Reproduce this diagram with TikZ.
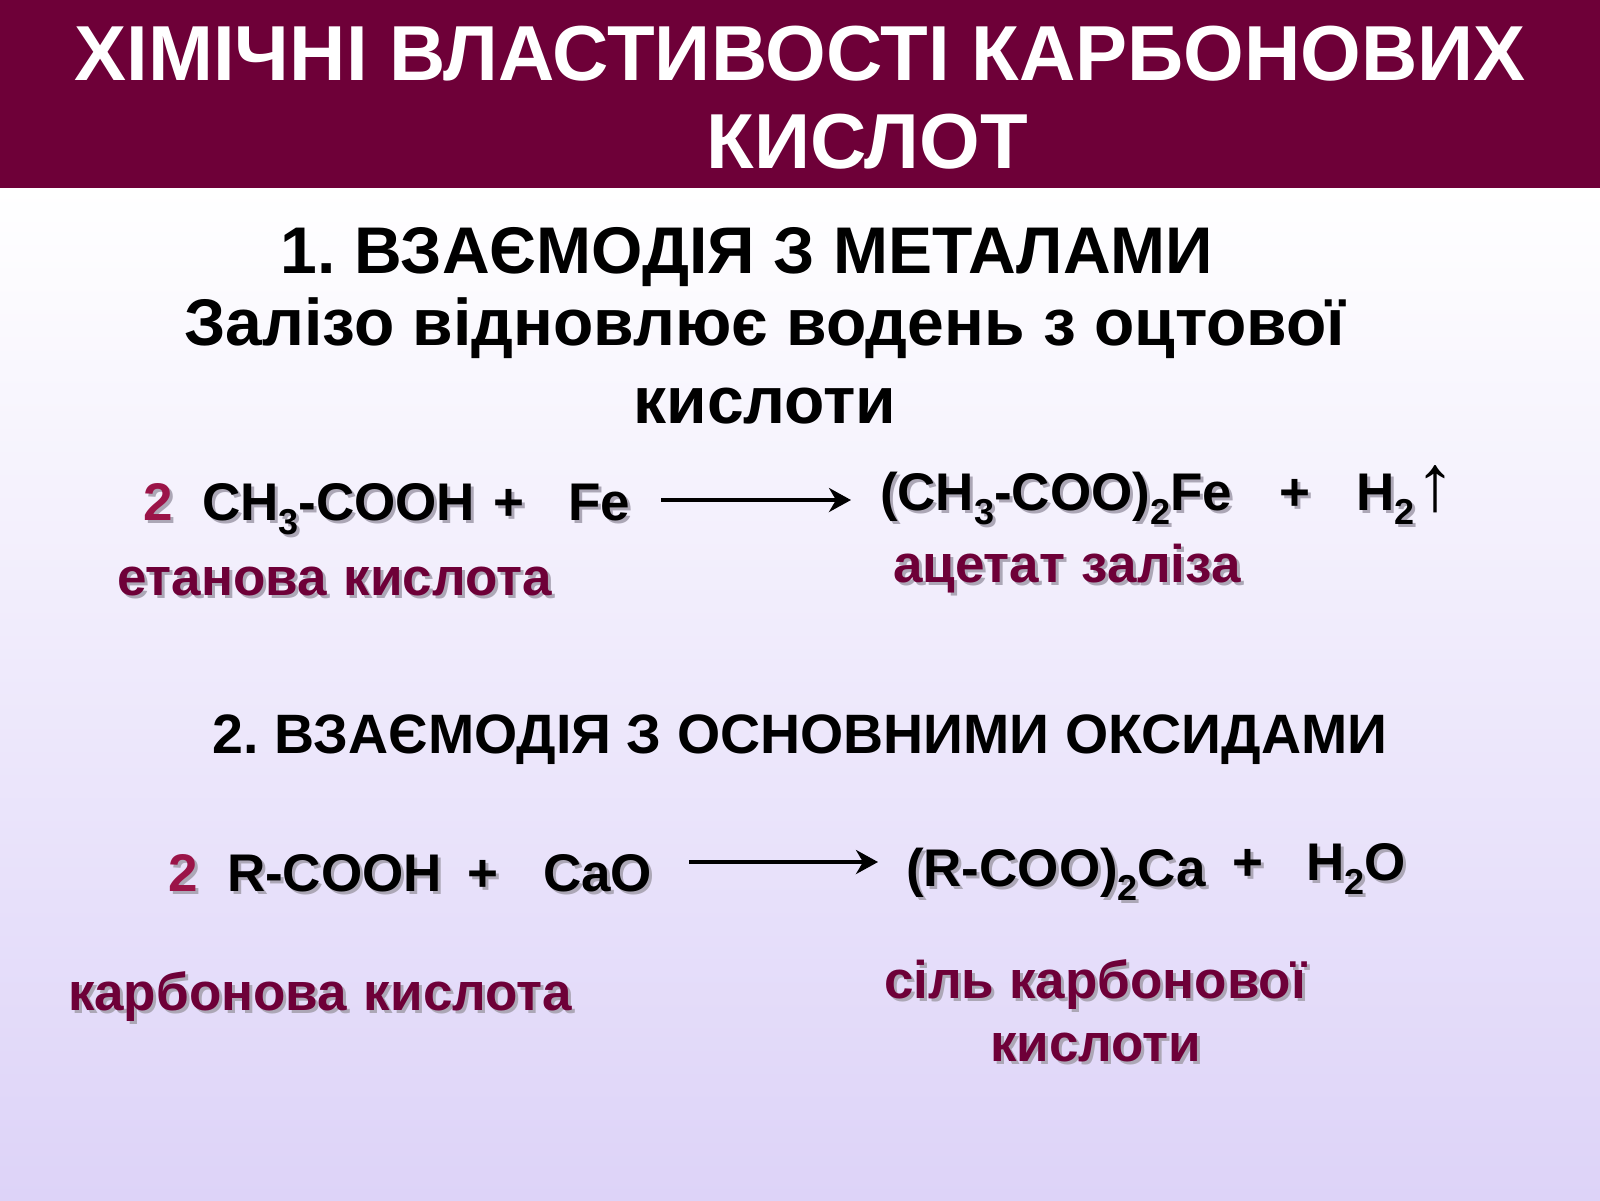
\documentclass[tikz,border=0pt]{standalone}
\usepackage{fontspec}
\setmainfont{Liberation Sans}
\usetikzlibrary{arrows.meta}
\frenchspacing
\definecolor{banner}{RGB}{110,0,56}
\definecolor{lab}{RGB}{110,0,56}
\definecolor{numc}{RGB}{155,20,72}
\definecolor{shadowc}{RGB}{172,167,182}
\definecolor{lav}{RGB}{221,211,248}
\newcommand\NC{numc}
\newcommand\sbs[1]{\raisebox{-0.28em}{\fontsize{36}{36}\selectfont #1}}
\newcommand\shd[1]{{\def\NC{shadowc}\rlap{\kern3pt\raisebox{-3pt}{\color{shadowc}#1}}}#1}
\tikzset{
  txt/.style={inner sep=0pt, outer sep=0pt, font=\bfseries},
  ttl/.style={txt, anchor=base, text=white, font=\bfseries\fontsize{78}{80}\selectfont},
  hd/.style={txt, anchor=base, text=black, font=\bfseries\fontsize{#1}{#1}\selectfont},
  frm/.style={txt, anchor=base west, text=black, font=\bfseries\fontsize{53}{60}\selectfont},
  lbl/.style={txt, anchor=base west, text=lab, font=\bfseries\fontsize{53}{60}\selectfont},
  rarrow/.style={line width=3.5pt, -{Stealth[length=22pt,width=24pt,inset=7pt]}}
}
\begin{document}
\begin{tikzpicture}[x=1pt,y=-1pt]
\useasboundingbox (0,0) rectangle (1600,1200);
% background
\shade[top color=white, bottom color=lav] (0,187) rectangle (1600,1200);
\fill[banner] (0,0) rectangle (1600,188);
% title
\node[ttl] (t1) at (800,80) {ХІМІЧНІ ВЛАСТИВОСТІ КАРБОНОВИХ};
\node[ttl] (t2) at (867,168) {КИСЛОТ};
% section 1
\node[hd=66] (h1) at (747,273) {1. ВЗАЄМОДІЯ З МЕТАЛАМИ};
\node[hd=66] (h1b) at (765,345) {Залізо відновлює водень з оцтової};
\node[hd=66] (h1c) at (765,423) {кислоти};
% reaction 1
\node[frm] (n1) at (143,520) {\shd{\textcolor{\NC}{2}}};
\node[frm] (a1) at (202,520) {\shd{CH\sbs{3}-COOH}};
\node[frm] (p1) at (493,520) {\shd{+}};
\node[frm] (fe) at (568,520) {\shd{Fe}};
\coordinate (s1) at (661,500);
\coordinate (e1) at (851,500);
\draw[rarrow] (s1) -- (e1);
\node[frm] (ac) at (880,510) {\shd{(CH\sbs{3}-COO)\sbs{2}Fe}};
\node[frm] (p2) at (1279,510) {\shd{+}};
\node[frm] (h2) at (1356,510) {\shd{H\sbs{2}}\kern1pt{\fontsize{80}{80}\selectfont\mdseries ↑}};
\node[lbl] (l1) at (117,595) {\shd{етанова\hspace{2pt} кислота}};
\node[lbl] (l2) at (893,582) {\shd{ацетат\hspace{2pt} заліза}};
% section 2
\node[hd=55.5] (h2a) at (800,753) {2. ВЗАЄМОДІЯ З ОСНОВНИМИ ОКСИДАМИ};
% reaction 2
\node[frm] (n2) at (168,891) {\shd{\textcolor{\NC}{2}}};
\node[frm] (rc) at (227,891) {\shd{R-COOH}};
\node[frm] (p3) at (467,891) {\shd{+}};
\node[frm] (cao) at (543,891) {\shd{CaO}};
\coordinate (s2) at (689,862);
\coordinate (e2) at (878,862);
\draw[rarrow] (s2) -- (e2);
\node[frm] (rca) at (906,886) {\shd{(R-COO)\sbs{2}Ca}};
\node[frm] (p4) at (1232,880) {\shd{+}};
\node[frm] (w) at (1306,880) {\shd{H\sbs{2}O}};
\node[lbl] (l3) at (68,1010) {\shd{карбонова\hspace{2pt} кислота}};
\node[lbl] (l4) at (884,998) {\shd{сіль карбонової}};
\node[lbl] (l5) at (990,1061) {\shd{кислоти}};
\end{tikzpicture}
\end{document}
